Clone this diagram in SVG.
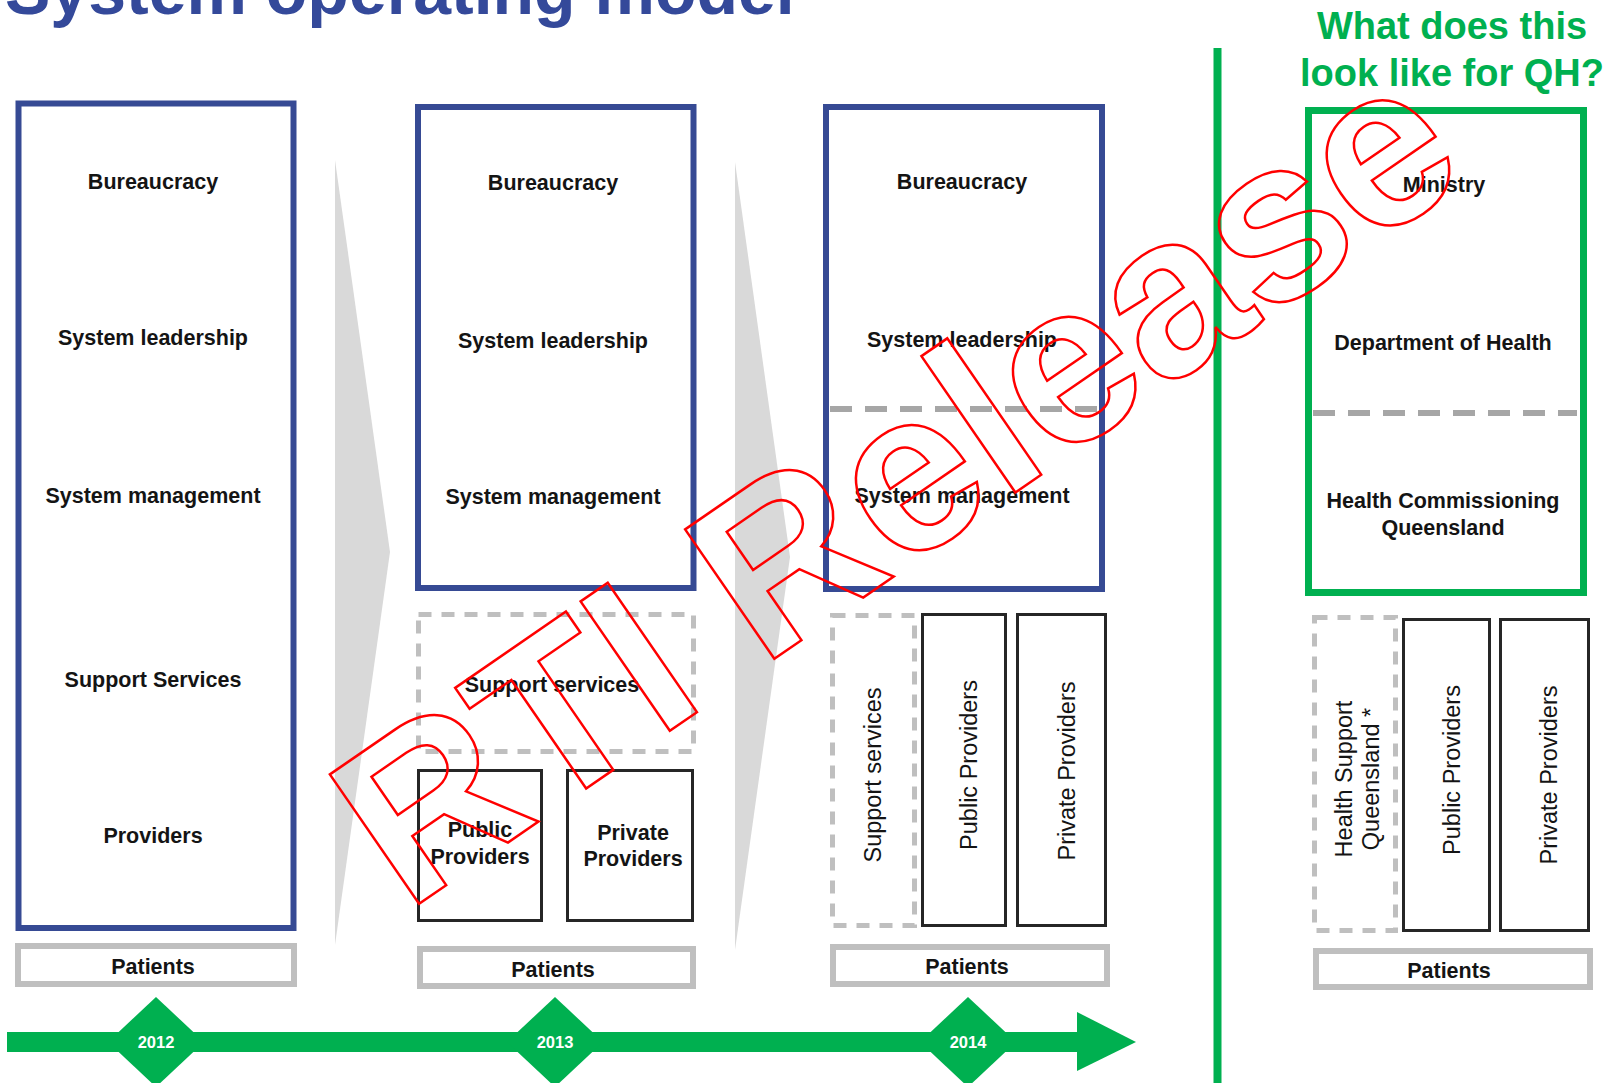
<svg xmlns="http://www.w3.org/2000/svg" width="1611" height="1083" viewBox="0 0 1611 1083">
<style>
  .lbl { font-family: "Liberation Sans", Arial, sans-serif; font-weight: bold; font-size: 21.5px; fill: #141414; text-anchor: middle; }
  .vlbl { font-family: "Liberation Sans", Arial, sans-serif; font-size: 23.5px; fill: #141414; text-anchor: middle; }
  .blue { fill: #ffffff; stroke: #364A94; stroke-width: 6; }
  .green { fill: #ffffff; stroke: #00B050; stroke-width: 7; }
  .solid { fill: #ffffff; stroke: #262626; stroke-width: 3; }
  .dashbox { fill: none; stroke: #BFBFBF; stroke-width: 5; stroke-dasharray: 13 10; }
  .divider { stroke: #A6A6A6; stroke-width: 6; stroke-dasharray: 22 13; }
  .patients { fill: #ffffff; stroke: #BFBFBF; stroke-width: 6; }
  .chev { fill: #D9D9D9; }
  .tl { fill: #00B050; }
  .year { font-family: "Liberation Sans", Arial, sans-serif; font-weight: bold; font-size: 16.5px; fill: #ffffff; text-anchor: middle; }
</style>

<text x="5" y="14" font-family="Liberation Sans, Arial, sans-serif" font-weight="bold" font-size="68" fill="#34499A">System operating model</text>

<g id="qh-title">
  <text x="1452" y="39" font-family="Liberation Sans, Arial, sans-serif" font-weight="bold" font-size="38" fill="#00B050" text-anchor="middle">What does this</text>
  <text x="1452" y="86" font-family="Liberation Sans, Arial, sans-serif" font-weight="bold" font-size="38" fill="#00B050" text-anchor="middle">look like for QH?</text>
</g>

<g id="connectors">
  <polygon class="chev" points="335,160 390,552 335,945"/>
  <polygon class="chev" points="735,162 790,557 735,950"/>
  <line x1="1217.5" y1="48" x2="1217.5" y2="1083" stroke="#00B050" stroke-width="8"/>
  <rect class="tl" x="7" y="1032" width="1072" height="20"/>
  <polygon class="tl" points="1077,1012 1136,1042 1077,1071"/>
</g>

<g id="col-2012">
  <rect class="blue" x="18.5" y="103.5" width="275" height="824.5"/>
  <text class="lbl" x="153" y="189">Bureaucracy</text>
  <text class="lbl" x="153" y="345">System leadership</text>
  <text class="lbl" x="153" y="503">System management</text>
  <text class="lbl" x="153" y="687">Support Services</text>
  <text class="lbl" x="153" y="843">Providers</text>
</g>
<g id="patients-2012">
  <rect class="patients" x="18" y="946" width="276" height="38"/>
  <text class="lbl" x="153" y="974">Patients</text>
</g>

<g id="col-2013">
  <rect class="blue" x="418" y="107" width="275.5" height="481"/>
  <text class="lbl" x="553" y="190">Bureaucracy</text>
  <text class="lbl" x="553" y="348">System leadership</text>
  <text class="lbl" x="553" y="504">System management</text>
</g>
<g id="support-2013">
  <rect class="dashbox" x="418.5" y="614.5" width="275" height="137"/>
  <text class="lbl" x="552" y="692">Support services</text>
</g>
<g id="public-2013">
  <rect class="solid" x="418.5" y="770.5" width="123" height="150"/>
  <text class="lbl" x="480" y="837">Public</text>
  <text class="lbl" x="480" y="864">Providers</text>
</g>
<g id="private-2013">
  <rect class="solid" x="567.5" y="770.5" width="125" height="150"/>
  <text class="lbl" x="633" y="840">Private</text>
  <text class="lbl" x="633" y="866">Providers</text>
</g>
<g id="patients-2013">
  <rect class="patients" x="420" y="949" width="273" height="37"/>
  <text class="lbl" x="553" y="977">Patients</text>
</g>

<g id="col-2014">
  <rect class="blue" x="826" y="107" width="276" height="482"/>
  <text class="lbl" x="962" y="189">Bureaucracy</text>
  <text class="lbl" x="962" y="347">System leadership</text>
  <line class="divider" x1="830" y1="409" x2="1098" y2="409"/>
  <text class="lbl" x="962" y="503">System management</text>
</g>
<g id="support-2014">
  <rect class="dashbox" x="832.5" y="615.5" width="82" height="310"/>
  <text class="vlbl" transform="translate(881,775) rotate(-90)">Support services</text>
</g>
<g id="public-2014">
  <rect class="solid" x="922.5" y="614.5" width="83" height="311"/>
  <text class="vlbl" transform="translate(977,765) rotate(-90)">Public Providers</text>
</g>
<g id="private-2014">
  <rect class="solid" x="1017.5" y="614.5" width="88" height="311"/>
  <text class="vlbl" transform="translate(1075,771) rotate(-90)">Private Providers</text>
</g>
<g id="patients-2014">
  <rect class="patients" x="833" y="947" width="274" height="37"/>
  <text class="lbl" x="967" y="974">Patients</text>
</g>

<g id="col-qh">
  <rect class="green" x="1308.5" y="110.5" width="275" height="482"/>
  <text class="lbl" x="1444" y="192">Ministry</text>
  <text class="lbl" x="1443" y="350">Department of Health</text>
  <line class="divider" x1="1313" y1="413" x2="1577" y2="413"/>
  <text class="lbl" x="1443" y="508">Health Commissioning</text>
  <text class="lbl" x="1443" y="535">Queensland</text>
</g>
<g id="hsq-qh">
  <rect class="dashbox" x="1314.5" y="617.5" width="81" height="313"/>
  <text class="vlbl" transform="translate(1352,779) rotate(-90)">Health Support</text>
  <text class="vlbl" transform="translate(1379,779) rotate(-90)">Queensland *</text>
</g>
<g id="public-qh">
  <rect class="solid" x="1403.5" y="619.5" width="86" height="311"/>
  <text class="vlbl" transform="translate(1460,770) rotate(-90)">Public Providers</text>
</g>
<g id="private-qh">
  <rect class="solid" x="1500.5" y="619.5" width="88" height="311"/>
  <text class="vlbl" transform="translate(1557,775) rotate(-90)">Private Providers</text>
</g>
<g id="patients-qh">
  <rect class="patients" x="1316" y="951" width="274" height="36"/>
  <text class="lbl" x="1449" y="978">Patients</text>
</g>

<g id="year-2012">
  <polygon class="tl" points="156,997 204,1042 156,1087 108,1042"/>
  <text class="year" x="156" y="1048">2012</text>
</g>
<g id="year-2013">
  <polygon class="tl" points="555,997 603,1042 555,1087 507,1042"/>
  <text class="year" x="555" y="1048">2013</text>
</g>
<g id="year-2014">
  <polygon class="tl" points="968,997 1016,1042 968,1087 920,1042"/>
  <text class="year" x="968" y="1048">2014</text>
</g>

<text transform="translate(406.5,912.5) rotate(-34.6)" font-family="Liberation Sans, Arial, sans-serif" font-weight="bold" font-size="228.5" fill="none" stroke="#FF0000" stroke-width="2.5">RTI Release</text>
</svg>
